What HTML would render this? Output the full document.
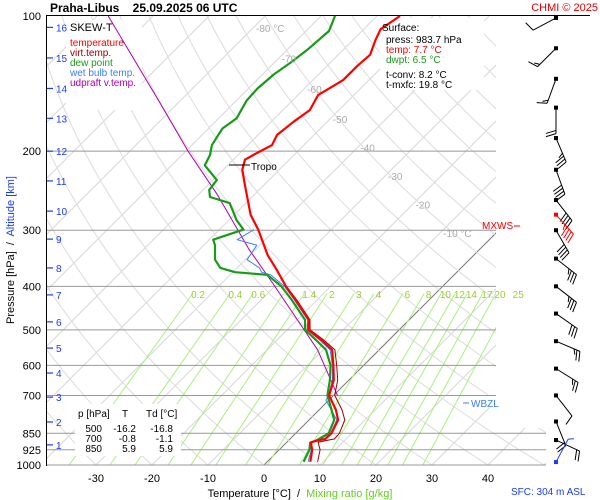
<!DOCTYPE html>
<html><head><meta charset="utf-8"><style>
html,body{margin:0;padding:0;background:#fff;}
svg{display:block;font-family:"Liberation Sans",Arial,sans-serif;}
</style></head><body>
<svg id="chart" width="600" height="500" viewBox="0 0 600 500" xmlns="http://www.w3.org/2000/svg">
<defs>
<clipPath id="clipGrid"><rect x="46" y="16" width="450" height="414"/><rect x="46" y="428" width="500" height="37"/></clipPath>
<clipPath id="clipPlot"><rect x="46" y="16" width="450" height="449"/></clipPath>
</defs>
<rect x="0" y="0" width="600" height="500" fill="#fff"/>
<g id="grid" clip-path="url(#clipGrid)"></g>
<g id="mix"></g>
<g id="plines"></g>
<rect x="66" y="20" width="76" height="90" fill="#fff"/>
<rect x="380" y="18" width="104" height="72" fill="#fff"/>
<g id="data" clip-path="url(#clipPlot)"></g>
<g id="winds"></g>
<g id="labels"></g>

<text x="70" y="31" font-size="11" fill="#000">SKEW-T</text>
<text x="70" y="46" font-size="10" fill="#f00">temperature</text>
<text x="70" y="56" font-size="10" fill="#a00000">virt.temp.</text>
<text x="70" y="66" font-size="10" fill="#1a9a1a">dew point</text>
<text x="70" y="76" font-size="10" fill="#3a7fff">wet bulb temp.</text>
<text x="70" y="86" font-size="10" fill="#b000b0">udpraft v.temp.</text>

<text x="382" y="31" font-size="10" fill="#000">Surface:</text>
<text x="386" y="43" font-size="10" fill="#000">press: 983.7 hPa</text>
<text x="386" y="53" font-size="10" fill="#f00">temp: 7.7 °C</text>
<text x="386" y="63" font-size="10" fill="#1a9a1a">dwpt: 6.5 °C</text>
<text x="386" y="78" font-size="10" fill="#000">t-conv: 8.2 °C</text>
<text x="386" y="88" font-size="10" fill="#000">t-mxfc: 19.8 °C</text>

<rect x="75" y="404" width="106" height="52" fill="#fff"/>
<g font-size="10" fill="#000">
<text x="78" y="417">p [hPa]</text><text x="122" y="417">T</text><text x="146" y="417">Td [°C]</text>
<text x="102" y="432" text-anchor="end">500</text><text x="136" y="432" text-anchor="end">-16.2</text><text x="173" y="432" text-anchor="end">-16.8</text>
<text x="102" y="442" text-anchor="end">700</text><text x="136" y="442" text-anchor="end">-0.8</text><text x="173" y="442" text-anchor="end">-1.1</text>
<text x="102" y="452" text-anchor="end">850</text><text x="136" y="452" text-anchor="end">5.9</text><text x="173" y="452" text-anchor="end">5.9</text>
</g>

<line x1="46" y1="15.5" x2="590" y2="15.5" stroke="#000" stroke-width="1"/>
<line x1="46.5" y1="15" x2="46.5" y2="466" stroke="#000" stroke-width="1"/>
<text x="50" y="12" font-size="12" font-weight="bold" fill="#000" xml:space="preserve">Praha-Libus    25.09.2025 06 UTC</text>
<text x="598" y="11" font-size="11" fill="#e00000" text-anchor="end">CHMI © 2025</text>
<text transform="translate(14,250) rotate(-90)" font-size="11" text-anchor="middle" xml:space="preserve"><tspan fill="#000">Pressure [hPa]  /  </tspan><tspan fill="#1a3aff">Altitude [km]</tspan></text>
<text x="300" y="497" font-size="11" text-anchor="middle" xml:space="preserve"><tspan fill="#000">Temperature [°C]  /  </tspan><tspan fill="#66cc22">Mixing ratio [g/kg]</tspan></text>
<text x="511" y="495" font-size="10" fill="#1a3aff">SFC: 304 m ASL</text>
<line x1="229" y1="165" x2="250" y2="165" stroke="#000" stroke-width="1"/>
<text x="251" y="170" font-size="10" fill="#000">Tropo</text>
<text x="482" y="229" font-size="10" fill="#f00">MXWS</text>
<line x1="514" y1="226" x2="520" y2="226" stroke="#f00"/>
<rect x="460" y="396" width="48" height="12" fill="#fff"/>
<line x1="463" y1="403" x2="469" y2="403" stroke="#3a7fff"/>
<text x="471" y="407" font-size="10" fill="#3a7fff">WBZL</text>
</svg>
<script>
const tempP  = [983.7,925,890,880,875,850,794,754,700,647,600,554,527,500,475,429,400,368,341,300,277,257,238,220,209,202,194,184,172,162,150,139,129,122,113,107,100];
const tempT  = [7.7,5.9,4.3,5.5,6.3,6.4,5.2,3.0,-0.8,-2.7,-5.4,-8.4,-12.0,-16.2,-17.9,-23.8,-28.0,-32.5,-36.8,-42.9,-47.1,-50.2,-53.4,-56.6,-57.9,-57.0,-55.7,-56.6,-56.0,-55.2,-56.4,-54.6,-54.6,-54.3,-56.0,-57.0,-55.9];
const dewP   = [983.7,925,893,880,850,794,717,700,647,600,554,527,500,475,429,400,377,372,364,349,324,315,299,285,261,253,244,232,215,204,194,184,178,169,154,145,135,127,119,108,100];
const dewT   = [6.5,5.4,4.3,5.0,5.9,4.5,0.0,-1.1,-3.4,-5.9,-9.5,-13.0,-16.8,-18.6,-24.5,-28.8,-33.4,-39.6,-43.0,-45.4,-48.0,-49.3,-45.7,-48.6,-52.9,-57.5,-58.9,-59.3,-64.1,-65.0,-66.4,-67.1,-67.5,-66.8,-68.2,-68.4,-68.0,-67.1,-66.4,-65.9,-67.5];
const virtP  = [983.7,925,890,880,875,850,794,754,700,647,600,554,527,500,475,429,400];
const virtT  = [9.0,7.3,5.6,7.0,7.9,7.8,6.4,4.1,0.2,-2.0,-4.8,-7.9,-11.6,-15.9,-17.7,-23.6,-27.9];
const parcP  = [700,554,393,332,250,200,154,100];
const parcT  = [0.7,-11.0,-31.0,-41.0,-56.6,-69.6,-84.0,-108.0];
const windP  = [101,118,138,160,187,220,257,277,300,347,400,460,530,610,700,800,880,985];
const windDir= [242,225,200,180,157,160,142,138,150,128,128,125,113,122,142,158,115,28];
const windSpd= [10,15,15,20,35,40,40,45,40,35,35,30,25,25,10,20,20,5];
const pressTicks = [100,200,300,400,500,600,700,850,925,1000];
const tempTicks  = [-30,-20,-10,0,10,20,30,40];
const kmTicks    = [1,2,3,4,5,6,7,8,9,10,11,12,13,14,15,16];
const kmPress    = [902,802,706,624,549,480,418,364,314,272,233,200,169,145,124,106];
const mixRatios  = [0.2,0.4,0.6,1,1.4,2,3,4,6,8,10,12,14,17,20,25];
const isoLabelT  = [-80,-70,-60,-50,-40,-30,-20,-10];

const NS='http://www.w3.org/2000/svg';
function yP(p){return 465-195*Math.log(1000/p);}
function xT(t,p){return 264+5.6*t+(465-yP(p));}
function mk(tag,attrs,parent){const e=document.createElementNS(NS,tag);for(const k in attrs)e.setAttribute(k,attrs[k]);parent.appendChild(e);return e;}
const grid=document.getElementById('grid'),mix=document.getElementById('mix'),pl=document.getElementById('plines'),dg=document.getElementById('data'),lab=document.getElementById('labels'),wg=document.getElementById('winds');

for(let t=-150;t<=50;t+=10){
  const l=mk('line',{x1:xT(t,1000),y1:yP(1000),x2:xT(t,100),y2:yP(100),stroke:t===0?'#777':'#d8d8d8','stroke-width':1},grid);
  
  
}
for(let th=-40;th<=200;th+=10){
  let d='';
  for(let p=1000;p>=100;p-=10){const T=(th+273.15)*Math.pow(p/1000,0.286)-273.15;d+=(d?'L':'M')+xT(T,p).toFixed(1)+','+yP(p).toFixed(1);}
  const a=mk('path',{d:d,fill:'none',stroke:'#dcdcdc','stroke-width':1},grid);
  
  
}
function tdW(w,p){const e=w*p/(622+w);const g=Math.log(e/6.112);return 243.5*g/(17.67-g);}
mixRatios.forEach(w=>{
  const m=mk('line',{x1:xT(tdW(w,1000),1000),y1:yP(1000),x2:xT(tdW(w,415),415),y2:yP(415),stroke:'#a8f080','stroke-width':1},grid);
  
  
  if(w!==1){
    const t=mk('text',{x:xT(tdW(w,400),400),y:298,'font-size':10,fill:'#99cc33','text-anchor':'middle'},mix);
    t.textContent=String(w);
    
    
  }
});
isoLabelT.forEach((t,i)=>{
  const yy=28+i*30.4-(i>3?(i-3)*2:0);
  const p=1000*Math.exp(-(465-yy)/195);
  const tx=mk('text',{x:xT(t,p)+3,y:yy+4,'font-size':10,fill:'#aaa'},lab);
  tx.textContent=(i===0||i===7)?t+' °C':String(t);
  
  
});
pressTicks.forEach(p=>{
  if(p>100){
    const l=mk('line',{x1:46,y1:yP(p),x2:p>=850?546:496,y2:yP(p),stroke:'#999','stroke-width':1},pl);
    
    
  }
  const t=mk('text',{x:41,y:yP(p)+4,'font-size':11,fill:'#000','text-anchor':'end'},lab);
  t.textContent=String(p);
  
  
});
tempTicks.forEach(t=>{
  const tx=mk('text',{x:xT(t,1000),y:482,'font-size':11,fill:'#000','text-anchor':'middle'},lab);
  tx.textContent=String(t);
  
  
});
kmTicks.forEach((k,i)=>{
  const y=yP(kmPress[i]);
  const l=mk('line',{x1:47,y1:y,x2:53,y2:y,stroke:'#1a3aff','stroke-width':1.2},lab);
  
  
  const t=mk('text',{x:56,y:y+4,'font-size':10,fill:'#1a3aff'},lab);
  t.textContent=String(k);
  
  
});
function prof(P,T,color,w,name){
  let d='';P.forEach((p,i)=>{d+=(i?'L':'M')+xT(T[i],p).toFixed(1)+','+yP(p).toFixed(1);});
  const e=mk('path',{d:d,fill:'none',stroke:color,'stroke-width':w,'stroke-linejoin':'round'},dg);
  
  
}
prof(parcP,parcT,'#b000b0',1,'updraft-line');
prof(virtP,virtT,'#a00000',1,'virtual-temp-line');
const wbT=dewP.map((p,i)=>{let j=0;let best=1e9;tempP.forEach((q,k)=>{const d=Math.abs(q-p);if(d<best){best=d;j=k;}});return (tempT[j]*2+dewT[i])/3;});
prof(dewP.slice(0,23),wbT.slice(0,23),'#3a7fff',1,'wet-bulb-line');
prof(dewP,dewT,'#1a9a1a',2.2,'dew-point-line');
prof(tempP,tempT,'#f00',2.2,'temperature-line');
windP.forEach((p,i)=>{
  const g=mk('g',{},wg);
  
  
  const y0=yP(p),x0=556,col=i===7?'#f00':(i===17?'#1a3aff':'#000');
  const a=windDir[i]*Math.PI/180,ux=Math.sin(a),uy=-Math.cos(a),L=26;
  const xe=x0+ux*L,ye=y0+uy*L;
  mk('line',{x1:x0,y1:y0,x2:xe,y2:ye,stroke:col,'stroke-width':1},g);
  mk('rect',{x:x0-2,y:y0-2,width:4,height:4,fill:col},g);
  let s=windSpd[i],pos=0;
  const px=-uy,py=ux;
  while(s>=5){
    const len=s>=10?10:5;
    const bx=xe-ux*pos*3.2,by=ye-uy*pos*3.2;
    mk('line',{x1:bx,y1:by,x2:bx+px*len+ux*3,y2:by+py*len+uy*3,stroke:col,'stroke-width':1},g);
    s-=len>=10?10:5;pos++;
  }
});
</script>
</body></html>
